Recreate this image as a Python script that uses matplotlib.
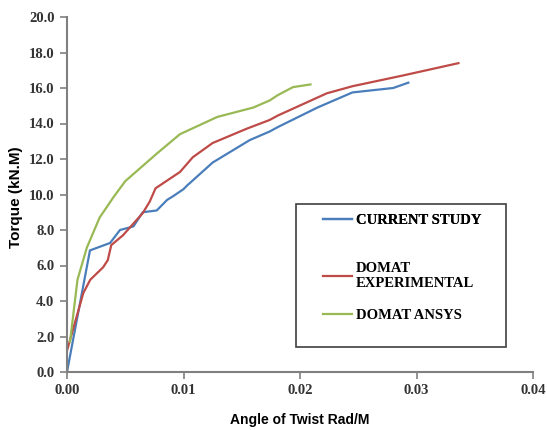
import matplotlib
matplotlib.use("Agg")
import matplotlib.pyplot as plt
from matplotlib.patches import Rectangle

# Torque vs angle of twist
current_x = [0.0, 0.00197, 0.0037, 0.00455, 0.0057, 0.0065, 0.0077, 0.0086, 0.0091, 0.0100,
             0.0103, 0.0125, 0.0157, 0.0174, 0.0181, 0.0215, 0.0245, 0.0280, 0.0293]
current_y = [0.0, 6.85, 7.27, 8.0, 8.2, 9.0, 9.1, 9.7, 9.9, 10.3,
             10.5, 11.8, 13.07, 13.55, 13.8, 14.9, 15.75, 16.0, 16.3]

exp_x = [0.0, 0.0014, 0.0020, 0.0031, 0.0035, 0.0038, 0.0048, 0.0065, 0.0071, 0.0076,
         0.0097, 0.0108, 0.0125, 0.0154, 0.0174, 0.0181, 0.0223, 0.0245, 0.0288, 0.0336]
exp_y = [1.2, 4.45, 5.2, 5.9, 6.3, 7.15, 7.7, 8.95, 9.6, 10.35,
         11.27, 12.1, 12.9, 13.7, 14.2, 14.45, 15.7, 16.1, 16.7, 17.4]

ansys_x = [0.00026, 0.0009, 0.0017, 0.0028, 0.0040, 0.0050, 0.0077, 0.0097, 0.0129, 0.0160,
           0.0174, 0.0181, 0.0194, 0.0209]
ansys_y = [1.7, 5.2, 7.0, 8.7, 9.86, 10.75, 12.3, 13.4, 14.37, 14.9,
           15.3, 15.6, 16.05, 16.2]

x_ticks = [0.0, 0.01, 0.02, 0.03, 0.04]
x_labels = ["0.00", "0.01", "0.02", "0.03", "0.04"]
y_ticks = [0, 2, 4, 6, 8, 10, 12, 14, 16, 18, 20]

W, H = 547, 430
fig = plt.figure(figsize=(W / 100, H / 100), dpi=100)
ax = fig.add_axes([67 / W, 1 - 372 / H, 466 / W, 355 / H])

l1, = ax.plot(current_x, current_y, color="#4a7ebb", lw=1.6, label="CURRENT STUDY")
l2, = ax.plot(exp_x, exp_y, color="#be4b48", lw=1.6, label="DOMAT\nEXPERIMENTAL")
l3, = ax.plot(ansys_x, ansys_y, color="#98b954", lw=1.6, label="DOMAT ANSYS")

ax.set_xlim(0, 0.04)
ax.set_ylim(0, 20)
ax.set_xticks(x_ticks)
ax.set_xticklabels(x_labels)
ax.set_yticks(y_ticks)
ax.set_yticklabels(["{:.1f}".format(v) for v in y_ticks])

for lab in ax.get_xticklabels() + ax.get_yticklabels():
    lab.set_family("Liberation Serif")
    lab.set_fontweight("bold")
    lab.set_fontsize(10.5)
    lab.set_color("#333333")

for side in ["top", "right"]:
    ax.spines[side].set_visible(False)
for side in ["left", "bottom"]:
    ax.spines[side].set_color("#808080")
    ax.spines[side].set_linewidth(1.5)
ax.tick_params(direction="out", length=5, width=1.2, color="#808080", pad=4)

ax.set_xlabel("Angle of Twist Rad/M", family="Liberation Sans", fontweight="bold",
              fontsize=10, labelpad=11)
ax.set_ylabel("Torque (kN.M)", family="Liberation Sans", fontweight="bold",
              fontsize=11)
ax.yaxis.set_label_coords((23 - 67) / 466, (372 - 197) / 355)

# legend: frame drawn separately so the entries can sit as in the reference
prop = {"family": "Liberation Serif", "weight": "bold", "size": 10.5}
leg1 = fig.legend(handles=[l1], loc="center left",
                  bbox_to_anchor=(323 / W, 1 - 220 / H), frameon=False, prop=prop,
                  handlelength=2.0, handletextpad=0.25, borderpad=0, borderaxespad=0)
leg2 = fig.legend(handles=[l2, l3], loc="upper left",
                  bbox_to_anchor=(323 / W, 1 - 262 / H), frameon=False, prop=prop,
                  handlelength=2.0, handletextpad=0.25, labelspacing=1.3,
                  borderpad=0, borderaxespad=0)
fig.add_artist(leg1)
fig.patches.append(Rectangle((296 / W, 1 - 347 / H), 210 / W, 143 / H,
                             transform=fig.transFigure, fill=False,
                             edgecolor="#404040", linewidth=1.2))

fig.savefig("out.png", dpi=100)
